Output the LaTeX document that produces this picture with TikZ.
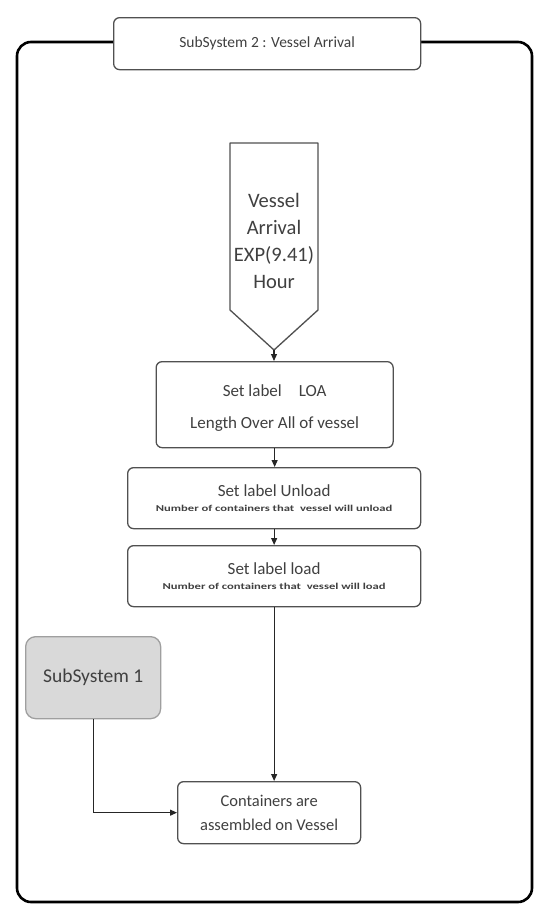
\documentclass[tikz,border=0pt]{standalone}
\usepackage{fontspec}
\setmainfont{Carlito}
\usetikzlibrary{arrows.meta}
\definecolor{txt}{HTML}{404040}
\definecolor{bord}{HTML}{505050}
\definecolor{ssfill}{HTML}{D9D9D9}
\begin{document}
\begin{tikzpicture}[x=1pt,y=-1pt,
  box/.style={draw=bord,line width=1.3pt,rounded corners=6pt,fill=white,inner sep=0pt,
    text=txt,align=center,anchor=north west},
  conn/.style={draw=black!85,line width=1.1pt,-{Triangle[length=7pt,width=6pt]}}]
\fill[white] (0,0) rectangle (537,905);
\useasboundingbox (0,0) rectangle (537,905);
% outer frame
\draw[line width=2.6pt,rounded corners=14pt] (17,42) rectangle (532,902);
% title
\node[box,minimum width=307pt,minimum height=52pt,font=\fontsize{15.5}{18}\selectfont] (title) at (113,17) {SubSystem 2 : Vessel Arrival};
% pentagon arrival
\coordinate (tip) at (274,350);
\draw[bord,line width=1.3pt,line join=round] (230,143) -- (318,143) -- (318,310) -- (tip) -- (230,310) -- cycle;
\node[text=txt,align=center,font=\fontsize{20.5}{27}\selectfont] (arr) at (274,241) {Vessel\\Arrival\\EXP(9.41)\\Hour};
% boxes
\node[box,minimum width=237pt,minimum height=86pt,font=\fontsize{17}{32}\selectfont] (loa) at (155.5,361) {\rule{0pt}{18pt}Set label\quad LOA\\Length Over All of vessel};
\node[box,minimum width=293pt,minimum height=61pt] (unl) at (127,467) {\fontsize{17}{18}\selectfont Set label Unload\\[3pt]\scalebox{1.4}[1]{\fontsize{9}{12}\selectfont\bfseries Number of containers that\ \ vessel will unload}};
\node[box,minimum width=293pt,minimum height=61pt] (lod) at (127,545) {\fontsize{17}{18}\selectfont Set label load\\[3pt]\scalebox{1.4}[1]{\fontsize{9}{12}\selectfont\bfseries Number of containers that\ \ vessel will load}};
\node[box,minimum width=183pt,minimum height=62pt,font=\fontsize{16.5}{24}\selectfont] (cont) at (177,781) {Containers are\\assembled on Vessel};
\node[box,draw=gray!75,fill=ssfill,minimum width=135pt,minimum height=82pt,rounded corners=10pt,font=\fontsize{19.5}{22}\selectfont] (ss1) at (25,636) {SubSystem 1};
% connectors
\draw[conn] (tip) -- (tip |- loa.north);
\draw[conn] (loa.south) -- (loa.south |- unl.north);
\draw[conn] (unl.south) -- (lod.north);
\draw[conn] (lod.south) -- (lod.south |- cont.north);
\draw[conn] (ss1.south) |- (cont.west);
\end{tikzpicture}
\end{document}
